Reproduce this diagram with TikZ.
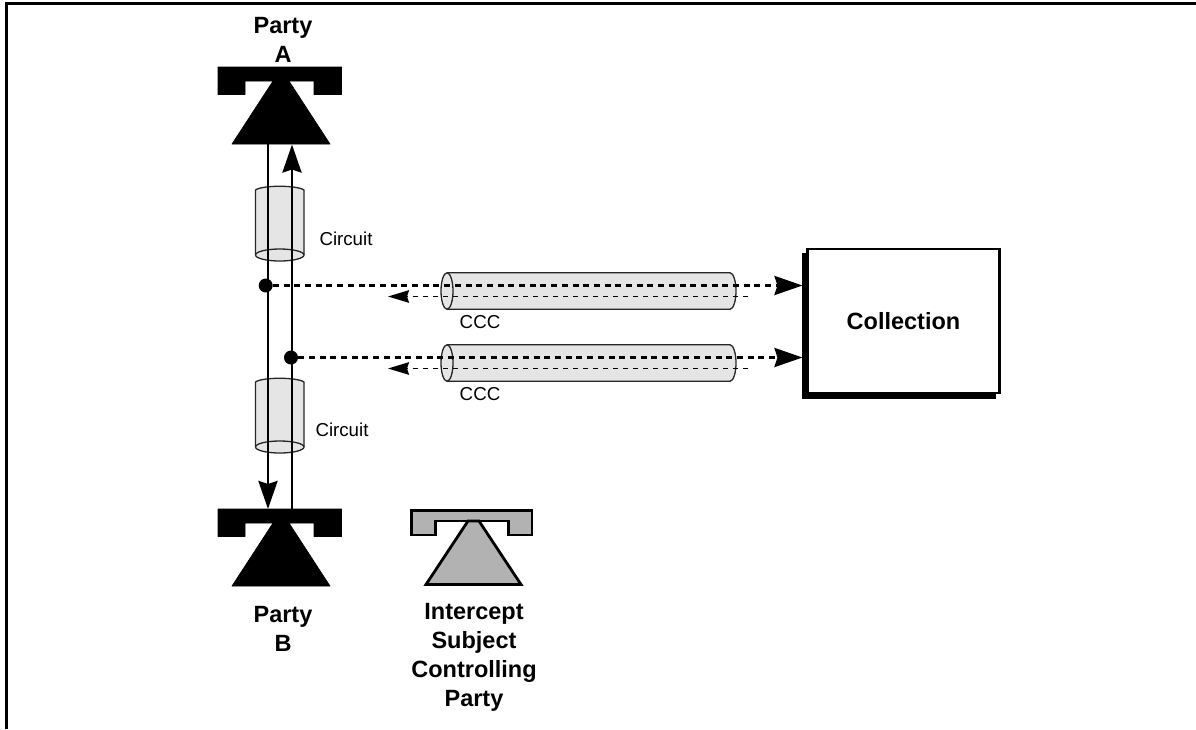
\documentclass[tikz,border=0pt]{standalone}
\usepackage{fontspec}
\setmainfont{Liberation Sans}
\usetikzlibrary{arrows.meta}
\definecolor{cylfill}{HTML}{E5E5E5}
\definecolor{subjfill}{HTML}{B2B2B2}
\tikzset{
  bigtip/.style={-{Stealth[length=28pt,width=19pt,inset=3pt]}},
  smalltip/.style={-{Stealth[length=21pt,width=12.5pt,inset=2pt]}},
  voice/.style={line width=2.9pt,draw=black},
  ccthick/.style={line width=2.9pt,draw=black,dash pattern=on 6pt off 4.7pt},
  ccthin/.style={line width=1.5pt,draw=black,dash pattern=on 5.5pt off 4.5pt},
  cyl/.style={fill=cylfill,draw=black!85,line width=1.3pt},
  title/.style={font=\fontsize{23.5pt}{29pt}\selectfont\bfseries,align=center,inner sep=0pt},
  lab/.style={font=\fontsize{18.7pt}{22pt}\selectfont,inner sep=0pt},
  tap/.style={circle,fill=black,minimum size=14pt,inner sep=0pt},
  solidphone/.style={fill=black,draw=black,line width=.6pt,line join=round},
  subjphone/.style={fill=subjfill,draw=black,line width=2.8pt,line join=miter}
}
\begin{document}
\begin{tikzpicture}[x=1pt,y=-1pt]
\useasboundingbox (0,0) rectangle (1196,729);
% frame
\draw[line width=2.7pt] (6.5,729) -- (6.5,3.5) -- (1196,3.5);
% vertical cylinders
\draw[cyl] (255.5,190) .. controls (262,185) and (297,185) .. (304,190) -- (304,255) arc[start angle=0,end angle=180,x radius=24.25,y radius=6] -- cycle;
\draw[cyl] (255.5,255) arc[start angle=180,end angle=360,x radius=24.25,y radius=6];
\draw[cyl] (255.5,382) .. controls (262,377) and (297,377) .. (304,382) -- (304,447) arc[start angle=0,end angle=180,x radius=24.25,y radius=6] -- cycle;
\draw[cyl] (255.5,447) arc[start angle=180,end angle=360,x radius=24.25,y radius=6];
% horizontal cylinders
\draw[cyl] (447,272.8) -- (730,272.8) arc[start angle=-90,end angle=90,x radius=6,y radius=18.2] -- (447,309.2) arc[start angle=90,end angle=270,x radius=6,y radius=18.2] -- cycle;
\draw[cyl] (447,272.8) arc[start angle=-90,end angle=90,x radius=6,y radius=18.2];
\draw[cyl] (447,344.8) -- (730,344.8) arc[start angle=-90,end angle=90,x radius=6,y radius=18.2] -- (447,381.2) arc[start angle=90,end angle=270,x radius=6,y radius=18.2] -- cycle;
\draw[cyl] (447,344.8) arc[start angle=-90,end angle=90,x radius=6,y radius=18.2];
% collection box
\fill[black] (802,253) rectangle (996,399);
\node[draw=black,fill=white,line width=2.2pt,minimum width=192pt,minimum height=144pt,inner sep=0pt,font=\fontsize{23.5pt}{29pt}\selectfont\bfseries] (coll) at (903.5,321) {Collection};
% phones
\draw[solidphone] (218,67) -- (341.5,67) -- (341.5,94.5) -- (314,94.5) -- (314,81) -- (289,81) -- (330,144) -- (232,144) -- (273,81) -- (245,81) -- (245,94.5) -- (218,94.5) -- cycle;
\draw[solidphone] (218,509) -- (341.5,509) -- (341.5,536.5) -- (314,536.5) -- (314,523) -- (289,523) -- (330,586) -- (232,586) -- (273,523) -- (245,523) -- (245,536.5) -- (218,536.5) -- cycle;
\draw[subjphone] (411.5,510.5) -- (532,510.5) -- (532,535) -- (508.5,535) -- (508.5,521) -- (435.5,521) -- (435.5,535) -- (411.5,535) -- cycle;
\draw[subjphone] (468,521) -- (479,521) -- (521,584.5) -- (426,584.5) -- cycle;
% anchors
\coordinate (aL) at (268,144);
\coordinate (aR) at (292,144.5);
\coordinate (bL) at (268,509);
\coordinate (bR) at (292,509);
\coordinate (c1) at (802.5,285.5);
\coordinate (c2) at (802.5,357.5);
\coordinate (s1) at (748,296.5);
\coordinate (s2) at (748,368.5);
\coordinate (e1) at (388,296.5);
\coordinate (e2) at (388,368.5);
\node[tap] (d1) at (265.7,285.5) {};
\node[tap] (d2) at (291,357.5) {};
% voice
\draw[voice,bigtip] (aL) -- (bL);
\draw[voice,bigtip] (bR) -- (aR);
% call content
\draw[ccthick,bigtip] (d1) -- (c1);
\draw[ccthick,bigtip] (d2) -- (c2);
\draw[ccthin,smalltip] (s1) -- (e1);
\draw[ccthin,smalltip] (s2) -- (e2);
% labels
\node[title] (pa) at (283,40) {Party\\A};
\node[title] (pb) at (283,629) {Party\\B};
\node[title] (isc) at (474,657.5) {Intercept\\Subject\\Controlling\\Party};
\node[lab] (c1l) at (346,239) {Circuit};
\node[lab] (c2l) at (342,430) {Circuit};
\node[lab] (ccc1) at (480,322) {CCC};
\node[lab] (ccc2) at (480,394) {CCC};
\end{tikzpicture}
\end{document}
